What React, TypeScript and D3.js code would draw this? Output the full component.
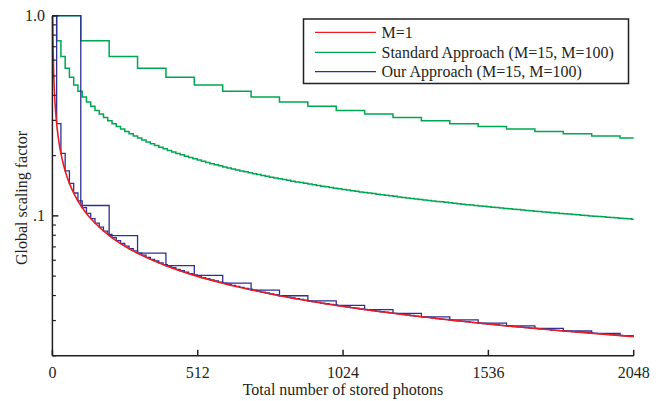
import React from "react";
import * as d3 from "d3";

// ---------- data ----------
const xTicks = [0, 512, 1024, 1536, 2048];
const yMajorTicks = [1, 0.1];
const yMajorLabels = ["1.0", ".1"];
const yMinorTicks = [0.02, 0.03, 0.04, 0.05, 0.06, 0.07, 0.08, 0.09, 0.2, 0.3, 0.4, 0.5, 0.6, 0.7, 0.8, 0.9];

// M=1 curve: sampled points (photons, scaling factor)
const redN = [1, 2, 3, 4, 5, 6, 8, 10, 12, 15, 20, 25, 30, 40, 50, 60, 80, 100, 125, 150, 200, 250, 300, 400, 500, 600, 800, 1000, 1200, 1400, 1600, 1800, 2048];
const redVal = [1, 0.75, 0.625, 0.5469, 0.4922, 0.4512, 0.3928, 0.3524, 0.3224, 0.2889, 0.2507, 0.2245, 0.2052, 0.1779, 0.1592, 0.1454, 0.126, 0.1127, 0.1008, 0.0921, 0.0797, 0.0713, 0.0651, 0.0564, 0.05045, 0.0461, 0.0399, 0.0357, 0.0326, 0.0302, 0.0282, 0.0266, 0.02493];

// Standard approach, M=15: one value per pass of 15 photons
const greenM15 = [
  1, 0.75, 0.625, 0.5469, 0.4922, 0.4512, 0.4189, 0.3928, 0.3709, 0.3524,
  0.3364, 0.3224, 0.31, 0.2989, 0.2889, 0.2799, 0.2717, 0.2641, 0.2572, 0.2507,
  0.2448, 0.2392, 0.234, 0.2291, 0.2245, 0.2202, 0.2162, 0.2123, 0.2086, 0.2052,
  0.2018, 0.1987, 0.1957, 0.1928, 0.1901, 0.1874, 0.1849, 0.1824, 0.1801, 0.1779,
  0.1757, 0.1736, 0.1716, 0.1696, 0.1677, 0.1659, 0.1642, 0.1624, 0.1608, 0.1592,
  0.1576, 0.1561, 0.1546, 0.1532, 0.1518, 0.1505, 0.1491, 0.1478, 0.1466, 0.1454,
  0.1442, 0.143, 0.1419, 0.1408, 0.1397, 0.1386, 0.1376, 0.1366, 0.1356, 0.1346,
  0.1337, 0.1328, 0.1318, 0.131, 0.1301, 0.1292, 0.1284, 0.1276, 0.1268, 0.126,
  0.1252, 0.1244, 0.1237, 0.1229, 0.1222, 0.1215, 0.1208, 0.1201, 0.1194, 0.1188,
  0.1181, 0.1175, 0.1169, 0.1162, 0.1156, 0.115, 0.1144, 0.1138, 0.1133, 0.1127,
  0.1121, 0.1116, 0.111, 0.1105, 0.11, 0.1095, 0.109, 0.1085, 0.108, 0.1075,
  0.107, 0.1065, 0.106, 0.1056, 0.1051, 0.1047, 0.1042, 0.1038, 0.1033, 0.1029,
  0.1025, 0.1021, 0.1016, 0.1012, 0.1008, 0.1004, 0.1, 0.0996, 0.0993, 0.0989,
  0.0985, 0.0981, 0.0978, 0.0974, 0.097, 0.0967, 0.0963,
];

// Standard approach, M=100: one value per pass of 100 photons
const greenM100 = [1, 0.75, 0.625, 0.5469, 0.4922, 0.4512, 0.4189, 0.3928, 0.3709, 0.3524, 0.3364, 0.3224, 0.31, 0.2989, 0.2889, 0.2799, 0.2717, 0.2641, 0.2572, 0.2507, 0.2448];

// Our approach, M=15
const blueM15 = [
  1, 0.2889, 0.2052, 0.1677, 0.1454, 0.1301, 0.1188, 0.11, 0.1029, 0.097,
  0.0921, 0.0878, 0.084, 0.0808, 0.0778, 0.0752, 0.0728, 0.0706, 0.0686, 0.0668,
  0.0651, 0.0636, 0.0621, 0.0607, 0.0595, 0.0583, 0.0571, 0.0561, 0.0551, 0.0541,
  0.0532, 0.0523, 0.0515, 0.0507, 0.05, 0.0492, 0.0486, 0.0479, 0.0473, 0.0466,
  0.0461, 0.0455, 0.045, 0.0444, 0.0439, 0.0434, 0.043, 0.0425, 0.0421, 0.0416,
  0.0412, 0.0408, 0.0404, 0.04, 0.0396, 0.0393, 0.0389, 0.0386, 0.0383, 0.0379,
  0.0376, 0.0373, 0.037, 0.0367, 0.0364, 0.0361, 0.0359, 0.0356, 0.0353, 0.0351,
  0.0348, 0.0346, 0.0343, 0.0341, 0.0339, 0.0336, 0.0334, 0.0332, 0.033, 0.0328,
  0.0326, 0.0324, 0.0322, 0.032, 0.0318, 0.0316, 0.0314, 0.0312, 0.0311, 0.0309,
  0.0307, 0.0305, 0.0304, 0.0302, 0.03, 0.0299, 0.0297, 0.0296, 0.0294, 0.0293,
  0.0291, 0.029, 0.0288, 0.0287, 0.0286, 0.0284, 0.0283, 0.0282, 0.028, 0.0279,
  0.0278, 0.0277, 0.0275, 0.0274, 0.0273, 0.0272, 0.0271, 0.0269, 0.0268, 0.0267,
  0.0266, 0.0265, 0.0264, 0.0263, 0.0262, 0.0261, 0.026, 0.0259, 0.0258, 0.0257,
  0.0256, 0.0255, 0.0254, 0.0253, 0.0252, 0.0251, 0.025,
];

// Our approach, M=100
const blueM100 = [1, 0.1127, 0.0797, 0.0651, 0.0564, 0.0505, 0.0461, 0.0426, 0.0399, 0.0376, 0.0357, 0.034, 0.0326, 0.0313, 0.0302, 0.0291, 0.0282, 0.0274, 0.0266, 0.0259, 0.0252];

const legendLabels = ["M=1", "Standard Approach (M=15, M=100)", "Our Approach (M=15, M=100)"];
const colors = { red: "#ec1c24", green: "#00a651", blue: "#2e3192" };

// ---------- layout ----------
const W = 664;
const H = 401;
const maxN = 2048;
const x = d3.scaleLinear().domain([0, maxN]).range([52.4, 633.7]);
const y = d3.scaleLog().domain([0.02, 1]).range([355.8, 15.7]);

const lineGen = d3
  .line<[number, number]>()
  .x((d) => x(d[0]))
  .y((d) => y(d[1]));

function stepPath(M: number, values: number[]) {
  const pts: [number, number][] = values.map((v, j) => [j * M, v]);
  pts.push([maxN, values[values.length - 1]]);
  return lineGen.curve(d3.curveStepAfter)(pts) || "";
}

const redPts: [number, number][] = redN.map((n, i) => [n, redVal[i]]);
const redPath = d3
  .line<[number, number]>()
  .x((d) => x(d[0]))
  .y((d) => y(d[1]))
  .curve(d3.curveMonotoneX)(redPts) || "";

const font = "'Liberation Serif', 'Times New Roman', serif";
const ink = "#231f20";

export default function App() {
  const legendX = 303.5;
  const legendY = 19;
  const legendRows = [32.3, 52.3, 71.7];
  const legendColors = [colors.red, colors.green, colors.blue];
  return (
    <svg
      width={W}
      height={H}
      viewBox={`0 0 ${W} ${H}`}
      style={{ position: "fixed", left: 0, top: 0, background: "#fff" }}
      fontFamily={font}
    >
      <rect x={0} y={0} width={W} height={H} fill="#fff" />
      {/* series */}
      <g fill="none" strokeLinejoin="miter">
        <path d={stepPath(100, greenM100)} stroke={colors.green} strokeWidth={1.5} />
        <path d={stepPath(15, greenM15)} stroke={colors.green} strokeWidth={1.5} />
        <path d={stepPath(100, blueM100)} stroke={colors.blue} strokeWidth={1.3} />
        <path d={stepPath(15, blueM15)} stroke={colors.blue} strokeWidth={1.3} />
        <path d={redPath} stroke={colors.red} strokeWidth={1.6} />
      </g>

      {/* axes */}
      <g stroke={ink} strokeWidth={1.5} fill="none">
        <line x1={x(0)} x2={x(0)} y1={y(1)} y2={y(0.02)} />
        <line x1={x(0)} x2={x(maxN)} y1={y(0.02)} y2={y(0.02)} />
        {yMajorTicks.map((t) => (
          <line key={"ym" + t} x1={x(0)} x2={x(0) + 6} y1={y(t)} y2={y(t)} />
        ))}
        {yMinorTicks.map((t) => (
          <line key={"yn" + t} x1={x(0)} x2={x(0) + 3.5} y1={y(t)} y2={y(t)} strokeWidth={1.2} />
        ))}
        {xTicks.map((t) => (
          <line key={"xt" + t} x1={x(t)} x2={x(t)} y1={y(0.02)} y2={y(0.02) - 6} />
        ))}
      </g>
      <g fill={ink} fontSize={16}>
        {yMajorTicks.map((t, i) => (
          <text key={"yl" + t} x={45} y={y(t) + 5} textAnchor="end">
            {yMajorLabels[i]}
          </text>
        ))}
        {xTicks.map((t) => (
          <text key={"xl" + t} x={x(t)} y={377.5} textAnchor="middle">
            {t}
          </text>
        ))}
        <text x={343} y={394.5} textAnchor="middle">
          Total number of stored photons
        </text>
        <text transform="translate(26.5,198) rotate(-90)" textAnchor="middle">
          Global scaling factor
        </text>
      </g>

      {/* legend */}
      <g>
        <rect x={legendX} y={legendY} width={325} height={64.5} fill="#fff" stroke={ink} strokeWidth={1.5} />
        {legendLabels.map((lab, i) => (
          <g key={lab}>
            <line x1={315} x2={376} y1={legendRows[i]} y2={legendRows[i]} stroke={legendColors[i]} strokeWidth={1.3} />
            <text x={381.5} y={legendRows[i] + 5.3} fontSize={16} fill={ink}>
              {lab}
            </text>
          </g>
        ))}
      </g>
    </svg>
  );
}
